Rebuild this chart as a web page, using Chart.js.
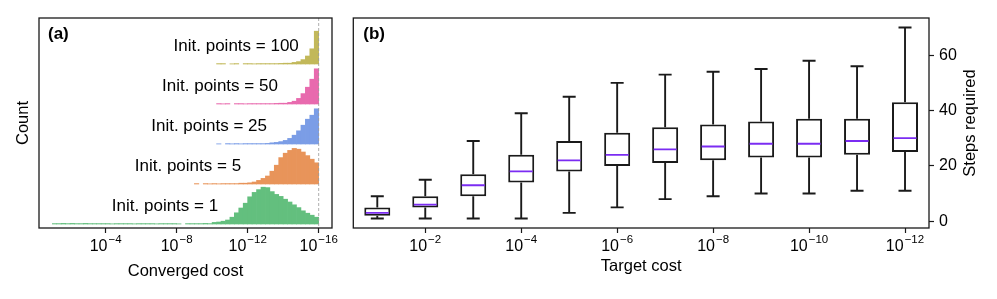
<!DOCTYPE html>
<html>
<head>
<meta charset="utf-8">
<script src="https://cdn.jsdelivr.net/npm/chart.js@4.4.1/dist/chart.umd.min.js"></script>
<style>
  body { margin: 0; background: #fff; }
  #wrap { position: relative; width: 997px; height: 299px; }
  #histChart { position: absolute; left: 0; top: 0; }
  #boxChart { position: absolute; left: 340px; top: 0; }
</style>
</head>
<body>
<div id="wrap">
  <canvas id="histChart" width="340" height="299"></canvas>
  <canvas id="boxChart" width="657" height="299"></canvas>
</div>
<script>
// ---- panel (a): histograms of the converged cost (log10 bins) ----
const initPoints = [1, 5, 25, 50, 100];
const binFirstEdge = -1;   // log10 of first bin edge
const binWidth = 0.25;     // decades per bin
// counts in % of a row height, bins from 10^-1 down to 10^-16
const countsInit1 = [
  1, 1, 1.5, 1, 1.5, 1, 1, 1.5, 1, 1, 1, 1,
  1, 0.5, 1, 1, 1, 1, 0.5, 1, 1, 1, 1, 0.5,
  1, 1, 1, 1, 0.5, 0, 1, 1, 1, 1, 1.5, 1,
  4, 5, 7, 10, 17, 28, 40, 52, 68, 79, 86, 92,
  91, 81, 74, 69, 62, 55, 48, 41, 33, 27, 22, 17
];
const countsInit5 = [
  0, 0, 0, 0, 0, 0, 0, 0, 0, 0, 0, 0,
  0, 0, 0, 0, 0, 0, 0, 0, 0, 0, 0, 0,
  0, 0, 0, 0, 0, 0, 0, 0, 1, 0, 1, 0.5,
  1, 0.5, 1, 1, 1, 1, 2, 2, 3, 5, 9, 14,
  20, 32, 47, 66, 77, 84, 89, 87, 80, 71, 62, 53
];
const countsInit25 = [
  0, 0, 0, 0, 0, 0, 0, 0, 0, 0, 0, 0,
  0, 0, 0, 0, 0, 0, 0, 0, 0, 0, 0, 0,
  0, 0, 0, 0, 0, 0, 0, 0, 0, 0, 0, 0,
  0, 0.5, 0, 1, 0.5, 1, 0.5, 1, 1, 1, 1, 1,
  1.5, 3, 4, 6, 9, 14, 22, 33, 47, 62, 72, 88
];
const countsInit50 = [
  0, 0, 0, 0, 0, 0, 0, 0, 0, 0, 0, 0,
  0, 0, 0, 0, 0, 0, 0, 0, 0, 0, 0, 0,
  0, 0, 0, 0, 0, 0, 0, 0, 0, 0, 0, 0,
  0, 1, 0.5, 1, 0, 1, 1, 0.5, 1, 1, 1, 1,
  1, 1, 1.5, 2, 2, 4, 7, 14, 26, 42, 62, 88
];
const countsInit100 = [
  0, 0, 0, 0, 0, 0, 0, 0, 0, 0, 0, 0,
  0, 0, 0, 0, 0, 0, 0, 0, 0, 0, 0, 0,
  0, 0, 0, 0, 0, 0, 0, 0, 0, 0, 0, 0,
  0, 1, 1, 0, 0.5, 1, 0, 1, 1, 0.5, 1, 1,
  1, 1, 1, 1.5, 2, 2, 4, 6, 11, 20, 38, 82
];
const histCounts = [countsInit1, countsInit5, countsInit25, countsInit50, countsInit100];
const histColors = ['#63bf7e', '#e8945a', '#7b9de6', '#e86aae', '#c2b85a'];
const costTicks = [-4, -8, -12, -16];

// ---- panel (b): steps required per target cost ----
const targetExp = [1, 2, 3, 4, 5, 6, 7, 8, 9, 10, 11, 12];
const stepsMin = [1, 1, 1, 1, 3, 5, 8, 9, 10, 10, 11, 11];
const stepsQ1 = [2, 5, 9, 14, 18, 20, 21, 22, 23, 23, 24, 25];
const stepsMedian = [3, 6, 13, 18, 22, 24, 26, 27, 28, 28, 29, 30];
const stepsQ3 = [5, 9, 17, 24, 29, 32, 34, 35, 36, 37, 37, 43];
const stepsMax = [9, 15, 29, 39, 45, 50, 53, 54, 55, 58, 56, 70];
const stepTicks = [0, 20, 40, 60];

const FONT = '"Liberation Sans", Arial, Helvetica, sans-serif';
const INK = '#1a1a1a';
const MEDIAN = '#7b2cf2';
Chart.defaults.font.family = FONT;
Chart.defaults.color = '#000';

// where the row labels end (in log10 cost)
const labelAnchor = [-10.34, -11.63, -13.09, -13.70, -14.88];

// "10" with a raised exponent
function drawPow(ctx, px, e, baseY) {
  const sup = '\u2212' + Math.abs(e);
  ctx.font = '16px ' + FONT;
  const w1 = ctx.measureText('10').width;
  ctx.font = '11.5px ' + FONT;
  const w2 = ctx.measureText(sup).width;
  const x0 = px - (w1 + w2 + 1) / 2;
  ctx.textAlign = 'left';
  ctx.textBaseline = 'alphabetic';
  ctx.font = '16px ' + FONT;
  ctx.fillText('10', x0, baseY);
  ctx.font = '11.5px ' + FONT;
  ctx.fillText(sup, x0 + w1 + 1, baseY - 8.5);
}

const histDecor = {
  id: 'histDecor',
  afterDraw(chart) {
    const { ctx, chartArea: a, scales: { x, y } } = chart;
    ctx.save();
    const xd = x.getPixelForValue(-16);
    ctx.strokeStyle = '#9a9a9a';
    ctx.lineWidth = 0.8;
    ctx.setLineDash([3, 2]);
    ctx.beginPath();
    ctx.moveTo(xd, a.top);
    ctx.lineTo(xd, a.bottom);
    ctx.stroke();
    ctx.setLineDash([]);
    ctx.strokeStyle = INK;
    ctx.lineWidth = 1.3;
    ctx.strokeRect(a.left, a.top, a.right - a.left, a.bottom - a.top);

    ctx.fillStyle = '#000';
    ctx.font = 'bold 17px ' + FONT;
    ctx.textAlign = 'left';
    ctx.textBaseline = 'middle';
    ctx.fillText('(a)', a.left + 9, a.top + 16.5);

    ctx.font = '17px ' + FONT;
    ctx.textAlign = 'right';
    initPoints.forEach((n, k) => {
      ctx.fillText('Init. points = ' + n, x.getPixelForValue(labelAnchor[k]), y.getPixelForValue(k + 0.45));
    });
    costTicks.forEach(e => drawPow(ctx, x.getPixelForValue(e), e, 251));
    ctx.restore();
  }
};

new Chart(document.getElementById('histChart'), {
  type: 'bar',
  data: {
    datasets: histCounts.map((counts, k) => ({
      data: counts
        .map((c, i) => ({ x: binFirstEdge - binWidth * (i + 0.5), y: [k, k + c / 100] }))
        .filter(d => d.y[1] > d.y[0]),
      backgroundColor: histColors[k],
      borderWidth: 0,
      barPercentage: 1,
      categoryPercentage: 1,
      grouped: false
    }))
  },
  options: {
    responsive: false,
    animation: false,
    events: [],
    layout: { padding: { left: 0, top: 18, right: 8, bottom: 0 } },
    plugins: { legend: { display: false }, tooltip: { enabled: false } },
    scales: {
      x: {
        type: 'linear',
        min: -16.75,
        max: -0.25,
        reverse: true,
        offset: false,
        afterBuildTicks: s => { s.ticks = costTicks.map(v => ({ value: v })); },
        ticks: { display: false },
        grid: { offset: false, drawOnChartArea: false, tickLength: 5, tickWidth: 1.2, tickColor: INK },
        border: { display: false },
        afterFit: s => { s.height = 71; },
        title: { display: true, text: 'Converged cost', font: { size: 16.5 }, color: '#000', padding: { top: 0, bottom: 18 } }
      },
      y: {
        min: -0.1,
        max: 5.15,
        ticks: { display: false },
        grid: { display: false },
        border: { display: false },
        afterFit: s => { s.width = 39; },
        title: { display: true, text: 'Count', font: { size: 16.5 }, color: '#000', padding: { top: 14, bottom: 0 } }
      }
    }
  },
  plugins: [histDecor]
});

const boxDecor = {
  id: 'boxDecor',
  afterDraw(chart) {
    const { ctx, chartArea: a, scales: { x } } = chart;
    ctx.save();
    ctx.strokeStyle = INK;
    ctx.lineWidth = 1.3;
    ctx.strokeRect(a.left, a.top, a.right - a.left, a.bottom - a.top);
    ctx.fillStyle = '#000';
    ctx.font = 'bold 17px ' + FONT;
    ctx.textAlign = 'left';
    ctx.textBaseline = 'middle';
    ctx.fillText('(b)', a.left + 10, a.top + 16.5);
    targetExp.forEach((e, i) => {
      if (e % 2 === 0) drawPow(ctx, x.getPixelForValue(i), -e, 251);
    });
    ctx.translate(a.right + 41.8, (a.top + a.bottom) / 2);
    ctx.rotate(-Math.PI / 2);
    ctx.textAlign = 'center';
    ctx.textBaseline = 'middle';
    ctx.font = '16.5px ' + FONT;
    ctx.fillText('Steps required', 0, 0);
    ctx.restore();
  }
};

new Chart(document.getElementById('boxChart'), {
  type: 'bar',
  data: {
    labels: targetExp.map(e => '1e-' + e),
    datasets: [
      { // lower whisker
        data: stepsMin.map((v, i) => [v, stepsQ1[i]]),
        backgroundColor: INK, barThickness: 1.9, inflateAmount: 0, grouped: false, order: 5
      },
      { // upper whisker
        data: stepsQ3.map((v, i) => [v, stepsMax[i]]),
        backgroundColor: INK, barThickness: 1.9, inflateAmount: 0, grouped: false, order: 5
      },
      { // box
        data: stepsQ1.map((v, i) => [v, stepsQ3[i]]),
        backgroundColor: '#fff', borderColor: INK, borderWidth: 2, borderSkipped: false,
        barThickness: 26, inflateAmount: 0, grouped: false, order: 4
      },
      { // caps
        type: 'line', data: stepsMin, showLine: false, pointStyle: 'line',
        pointRadius: 6.5, pointBorderColor: INK, pointBorderWidth: 1.9, order: 3
      },
      {
        type: 'line', data: stepsMax, showLine: false, pointStyle: 'line',
        pointRadius: 6.5, pointBorderColor: INK, pointBorderWidth: 1.9, order: 3
      },
      { // median
        type: 'line', data: stepsMedian, showLine: false, pointStyle: 'line',
        pointRadius: 11.5, pointBorderColor: MEDIAN, pointBorderWidth: 1.8, order: 1
      }
    ]
  },
  options: {
    responsive: false,
    animation: false,
    events: [],
    layout: { padding: { left: 2, top: 18, right: 0, bottom: 0 } },
    plugins: { legend: { display: false }, tooltip: { enabled: false } },
    scales: {
      x: {
        type: 'category',
        offset: true,
        ticks: { display: false },
        grid: {
          offset: false, drawOnChartArea: false, tickLength: 5, tickWidth: 1.2,
          tickColor: c => (targetExp[c.index] % 2 === 0 ? INK : 'rgba(0,0,0,0)')
        },
        border: { display: false },
        afterFit: s => { s.height = 71; },
        title: { display: true, text: 'Target cost', font: { size: 16.5 }, color: '#000', padding: { top: 0, bottom: 23 } }
      },
      y: {
        position: 'right',
        min: -2.45,
        max: 73.45,
        afterBuildTicks: s => { s.ticks = stepTicks.map(v => ({ value: v })); },
        ticks: { font: { size: 16 }, color: '#000', padding: 5 },
        grid: { drawOnChartArea: false, tickLength: 5, tickWidth: 1.2, tickColor: INK },
        border: { display: false },
        afterFit: s => { s.width = 68; }
      }
    }
  },
  plugins: [boxDecor]
});
</script>
</body>
</html>
